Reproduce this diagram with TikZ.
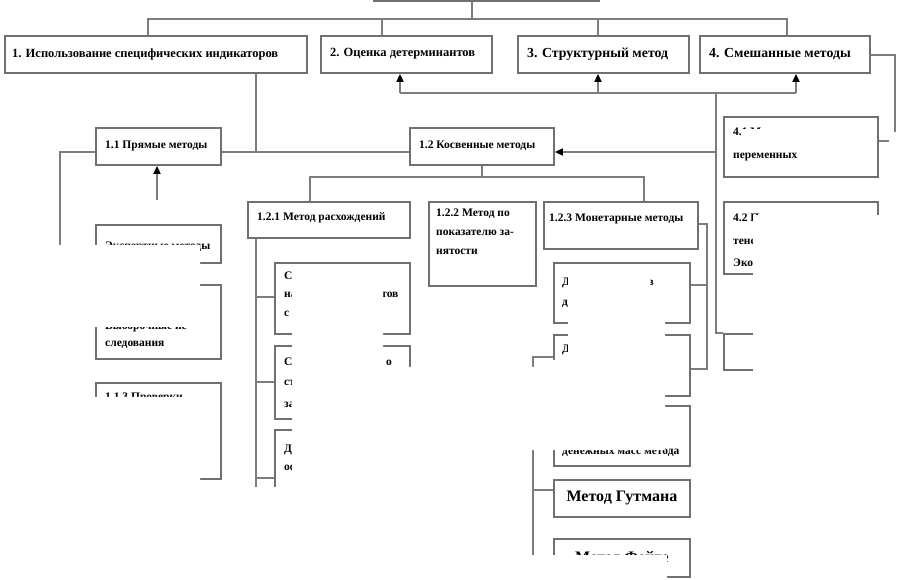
\documentclass[tikz,border=0pt]{standalone}
\usepackage{fontspec}
\setmainfont{Liberation Serif}
\usetikzlibrary{arrows.meta}
\definecolor{bgray}{RGB}{112,112,112}
\definecolor{lgray}{RGB}{125,125,125}
\begin{document}
\begin{tikzpicture}[x=1pt,y=-1pt,
  box/.style={draw=bgray, line width=1.9pt, anchor=north west, inner sep=0pt},
  conn/.style={draw=lgray, line width=1.8pt},
  arr/.style={conn, -{Triangle[length=8pt,width=7pt,color=black]}},
  txt/.style={anchor=west, inner sep=0pt, font=\fontsize{11.5}{14}\selectfont\bfseries},
  toptxt/.style={anchor=west, inner sep=0pt, font=\fontsize{12.5}{14}\selectfont\bfseries},
  regtxt/.style={anchor=west, inner sep=0pt, font=\fontsize{13.8}{16}\selectfont\bfseries},
  big/.style={font=\fontsize{16}{18}\selectfont\bfseries},
  mask/.style={fill=white, draw=none}]
\useasboundingbox (0,0) rectangle (898,580);
\fill[white] (0,0) rectangle (898,580);
% boxes
\node[box, minimum width=225pt, minimum height=40pt, anchor=south west] (root) at (373,2) {};
\node[box, minimum width=302pt, minimum height=37pt] (b1) at (4,35) {};
\node[box, minimum width=171pt, minimum height=37pt] (b2) at (320,35) {};
\node[box, minimum width=171pt, minimum height=37pt] (b3) at (517,35) {};
\node[box, minimum width=170pt, minimum height=37pt] (b4) at (699,35) {};
\node[box, minimum width=125pt, minimum height=37pt] (b11) at (95,127) {};
\node[box, minimum width=144pt, minimum height=37pt] (b12) at (409,127) {};
\node[box, minimum width=125pt, minimum height=38pt] (bi) at (95,224) {};
\node[box, minimum width=125pt, minimum height=74pt] (bii) at (95,284) {};
\node[box, minimum width=125pt, minimum height=96pt] (biii) at (95,382) {};
\node[box, minimum width=162pt, minimum height=36pt] (b121) at (247,201) {};
\node[box, minimum width=107pt, minimum height=84pt] (b122) at (428,201) {};
\node[box, minimum width=154pt, minimum height=47pt] (b123) at (543,201) {};
\node[box, minimum width=135pt, minimum height=71pt] (ba) at (274,262) {};
\node[box, minimum width=135pt, minimum height=73pt] (bb) at (274,345) {};
\node[box, minimum width=135pt, minimum height=80pt] (bc) at (274,429) {};
\node[box, minimum width=136pt, minimum height=60pt] (mA) at (553,262) {};
\node[box, minimum width=136pt, minimum height=61pt] (mB) at (553,334) {};
\node[box, minimum width=136pt, minimum height=60pt] (mC) at (553,405) {};
\node[box, minimum width=136pt, minimum height=37pt, big] (mD) at (553,479) {};
\node[box, minimum width=136pt, minimum height=38pt] (mE) at (553,538) {};
\node[box, minimum width=154pt, minimum height=60pt] (b41) at (723,116) {};
\node[box, minimum width=154pt, minimum height=72pt] (b42) at (723,201) {};
\node[box, minimum width=140pt, minimum height=36pt] (b43) at (723,333) {};
% connectors
\draw[conn] (472,0 |- root.south) -- (472,19);
\draw[conn] (148,0 |- b1.north) -- (148,19) -- (787,19) -- (787,0 |- b4.north);
\draw[conn] (382,19) -- (382,0 |- b2.north);
\draw[conn] (598,19) -- (598,0 |- b3.north);
\draw[conn] (400,93) -- (796,93);
\draw[arr] (400,93) -- (400,0 |- b2.south);
\draw[arr] (598,93) -- (598,0 |- b3.south);
\draw[arr] (796,93) -- (796,0 |- b4.south);
\draw[conn] (716,93) -- (716,333) -- (b43.north west);
\draw[arr] (716,152) -- (b12.east |- 0,152);
\draw[conn] (b4.east |- 0,55) -- (895,55) -- (895,215);
\draw[conn] (b41.east |- 0,141) -- (895,141);
\draw[conn] (256,0 |- b1.south) -- (256,152);
\draw[conn] (b11.east |- 0,152) -- (b12.west |- 0,152);
\draw[conn] (b11.west |- 0,152) -- (60,152) -- (60,400);
\draw[arr] (157,200) -- (157,0 |- b11.south);
\draw[conn] (482,0 |- b12.south) -- (482,177);
\draw[conn] (310,0 |- b121.north) -- (310,177) -- (644,177) -- (644,0 |- b123.north);
\draw[conn] (256,0 |- b121.south) -- (256,520);
\draw[conn] (256,297) -- (ba.west |- 0,297);
\draw[conn] (256,382) -- (bb.west |- 0,382);
\draw[conn] (256,478) -- (bc.west |- 0,478);
\draw[conn] (b123.east |- 0,224) -- (707,224) -- (707,369) -- (mB.east |- 0,369);
\draw[conn] (mA.east |- 0,285) -- (707,285);
\draw[conn] (mB.west |- 0,357) -- (533,357) -- (533,557) -- (mE.west |- 0,557);
\draw[conn] (533,490) -- (mD.west |- 0,490);
\draw[conn] (533,435) -- (mC.west |- 0,435);
% texts
\node[toptxt] (t1) at (12,54) {1. Использование специфических индикаторов};
\node[toptxt] (t2) at (330,54) {2. Оценка детерминантов};
\node[regtxt] (t3) at (527,54) {3. Структурный метод};
\node[regtxt] (t4) at (709,54) {4. Смешанные методы};
\node[txt] (t11) at (105,146) {1.1 Прямые методы};
\node[txt] (t12) at (419,146) {1.2 Косвенные методы};
\node[txt] (t121) at (257,218) {1.2.1 Метод расхождений};
\node[txt] (t122a) at (436,214) {1.2.2 Метод по};
\node[txt] (t122b) at (436,233) {показателю за-};
\node[txt] (t122c) at (436,252) {нятости};
\node[txt] (t123) at (549,219) {1.2.3 Монетарные методы};
\node[txt] (t41a) at (733,133) {4.1 Метод скрытых};
\node[txt] (t41b) at (733,157) {переменных};
\node[txt] (t42a) at (733,219) {4.2 Построение модели};
\node[txt] (t42b) at (733,241) {теневой};
\node[txt] (t42c) at (733,263) {Экономики};
\node[txt] (ti) at (105,247) {Экспертные методы};
\node[txt] (tii1) at (105,327) {Выборочные ис-};
\node[txt] (tii2) at (105,345) {следования};
\node[txt] (tiii) at (105,398) {1.1.3 Проверки};
\node[txt] (ta1) at (284,277) {Сравнение доходов};
\node[txt] (ta2) at (284,296) {национальных счетов};
\node[txt] (ta3) at (284,315) {с расходами};
\node[txt] (tb1) at (284,363) {Сравнение данных о};
\node[txt] (tb2) at (284,384) {структуре доходов};
\node[txt] (tb3) at (284,405) {занятости};
\node[txt] (tc1) at (284,450) {Данные о расходах};
\node[txt] (tc2) at (284,468) {официальной};
\node[txt] (tA1) at (562,283) {Доля наличных в};
\node[txt] (tA2) at (562,303) {денежной массе};
\node[txt] (tB1) at (562,350) {Доля депозитов в};
\node[txt] (tB2) at (562,372) {денежной массе};
\node[txt] (tC) at (562,453) {денежных масс метода};
\node[big, inner sep=0pt] (tD) at (mD.center) {Метод Гутмана};
\node[big, inner sep=0pt] (tE) at (mE.center) {Метод Фейге};
% white patches of the scan
\fill[mask] (292,273) -- (383,273) -- (383,367) -- (536,367) -- (536,360) -- (568,360)
  -- (568,272) -- (650,272) -- (650,312) -- (665,312) -- (665,450) -- (528,450)
  -- (528,555) -- (667,555) -- (667,580) -- (0,580) -- (0,487) -- (292,487) -- cycle;
\fill[mask] (0,245) -- (200,245) -- (200,327) -- (92,327) -- (92,397) -- (200,397)
  -- (200,487) -- (0,487) -- cycle;
\fill[mask] (753,215) rectangle (898,580);
\fill[mask] (889,132) rectangle (898,215);
\fill[mask] (741,129) rectangle (872,138);
\end{tikzpicture}
\end{document}
